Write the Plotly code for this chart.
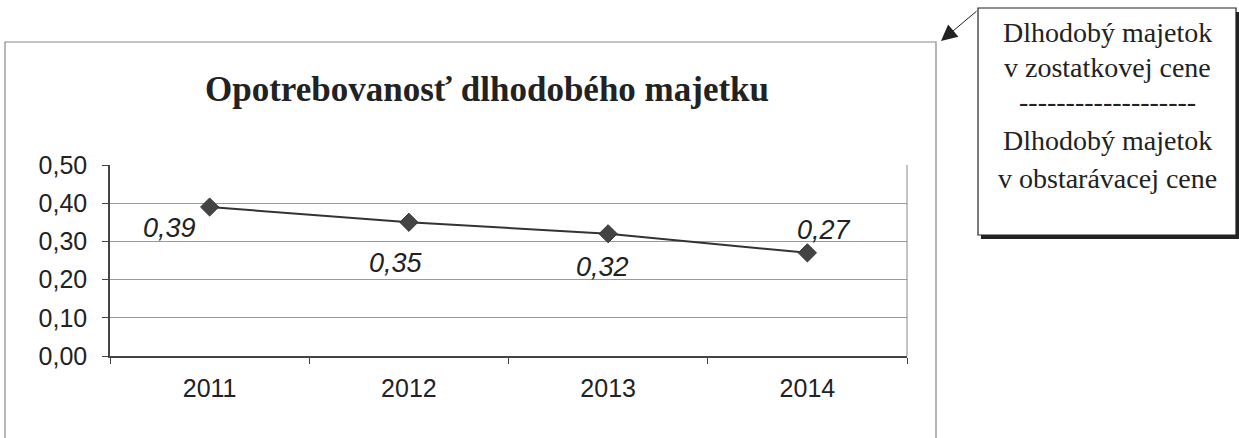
import plotly.graph_objects as go

years = ["2011", "2012", "2013", "2014"]
values = [0.39, 0.35, 0.32, 0.27]
value_labels = ["0,39", "0,35", "0,32", "0,27"]
y_ticks = [0.0, 0.1, 0.2, 0.3, 0.4, 0.5]
title_text = "Opotrebovanosť dlhodobého majetku"
note_lines = ["Dlhodobý majetok", "v zostatkovej cene", "-------------------",
              "Dlhodobý majetok", "v obstarávacej cene"]

# layout-only settings (pixel offsets of the data labels)
label_shift = [(-40, -21), (-13, -41), (-6, -33), (17, 23)]

W, H = 1239, 438
L, R, T, B = 110, 907, 165, 356  # plot area pixels

def px(x):
    return (x - L) / (R - L)

def py(y):
    return (B - y) / (B - T)

fig = go.Figure()
fig.add_trace(go.Scatter(
    x=years, y=values, mode="lines+markers",
    line=dict(color="#333", width=2),
    marker=dict(symbol="diamond", size=14, color="#444", line=dict(color="#333", width=1)),
    cliponaxis=False, showlegend=False,
))

shapes = []
# outer frame (bottom runs off the page)
shapes.append(dict(type="rect", xref="paper", yref="paper",
                   x0=px(5), x1=px(936), y0=py(460), y1=py(42),
                   line=dict(color="#888", width=1.2), layer="below"))
# right plot border
shapes.append(dict(type="line", xref="paper", yref="paper",
                   x0=1, x1=1, y0=0, y1=1, line=dict(color="#888", width=1)))
# callout shadow and box
shapes.append(dict(type="rect", xref="paper", yref="paper",
                   x0=px(981), x1=px(1240), y0=py(239), y1=py(12),
                   line=dict(width=0), fillcolor="#222"))
shapes.append(dict(type="rect", xref="paper", yref="paper",
                   x0=px(978), x1=px(1236), y0=py(235), y1=py(8),
                   line=dict(color="#222", width=1.2), fillcolor="white"))

annotations = []
for i, (v, lab, (dx, dy)) in enumerate(zip(values, value_labels, label_shift)):
    annotations.append(dict(x=i, y=v, xref="x", yref="y", text=lab, showarrow=False,
                            xshift=dx, yshift=dy, xanchor="center", yanchor="middle",
                            font=dict(family="Liberation Sans, Arial", size=27, color="#222",
                                      style="italic")))
line_y = [32, 67, 101, 140, 178]
for txt, yy in zip(note_lines, line_y):
    annotations.append(dict(xref="paper", yref="paper", x=px(1107), y=py(yy),
                            text=txt, showarrow=False, xanchor="center", yanchor="middle",
                            font=dict(family="Liberation Serif, Times New Roman", size=28, color="#222")))
annotations.append(dict(xref="paper", yref="paper", x=px(941), y=py(41), text="",
                        showarrow=True, arrowhead=2, arrowsize=3.2, arrowwidth=1,
                        arrowcolor="#222", ax=37, ay=-31))

fig.update_layout(
    width=W, height=H,
    margin=dict(l=L, r=W - R, t=T, b=H - B, pad=0),
    paper_bgcolor="white", plot_bgcolor="white",
    separators=",.",
    title=dict(text="<b>" + title_text + "</b>", x=487 / W, y=1 - 89 / H,
               xanchor="center", yanchor="middle",
               font=dict(family="Liberation Serif, Times New Roman", size=35, color="#222")),
    xaxis=dict(type="category", range=[-0.5, 3.5], tickson="boundaries",
               ticks="outside", ticklen=6, tickcolor="#444",
               showline=True, linecolor="#444", linewidth=1.5,
               showgrid=False, tickfont=dict(family="Liberation Sans, Arial", size=25, color="#222"),
               ticklabelstandoff=9),
    yaxis=dict(range=[0, 0.5], tickvals=y_ticks, tickformat=".2f",
               ticks="outside", ticklen=6, tickcolor="#444",
               showline=True, linecolor="#444", linewidth=1.5,
               showgrid=True, gridcolor="#999", gridwidth=1, zeroline=False,
               tickfont=dict(family="Liberation Sans, Arial", size=25, color="#222"),
               ticklabelstandoff=10),
    shapes=shapes, annotations=annotations,
)

fig.write_html("out.html", config={"displayModeBar": False},
               post_script="document.body.style.margin='0';document.body.style.overflow='hidden';")
